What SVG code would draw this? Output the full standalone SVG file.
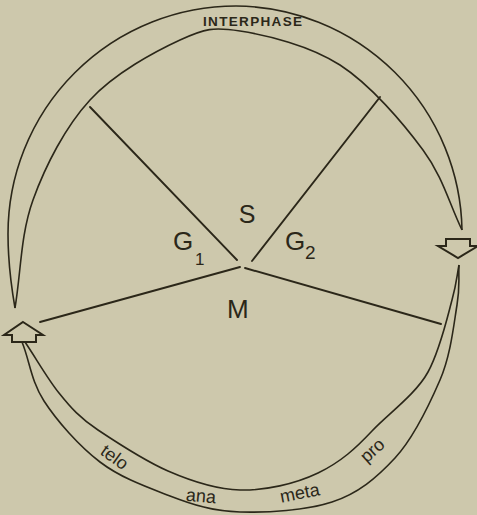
<svg xmlns="http://www.w3.org/2000/svg" width="477" height="515" viewBox="0 0 477 515">
<style>
.band{fill:none;stroke:#2b2719;stroke-width:1.6;stroke-linejoin:round}
.ln{fill:none;stroke:#2b2719;stroke-width:1.9;stroke-linecap:round}
.arr{fill:#cdc8ac;stroke:#2b2719;stroke-width:2;stroke-linejoin:miter}
.lbl{font-family:"Liberation Sans",Arial,sans-serif;fill:#2b2719}
</style>
<rect width="477" height="515" fill="#cdc8ac"/>
<g id="interphase">
<path class="band" d="M15,308 C11,285 8,260 8,234 A228 228 0 0 1 236,6 A228 228 0 0 1 462,230"/>
<path class="band" d="M15,308 C21,272 20.5,234.7 33,200 C45.5,165.3 65.5,126.7 90,100 C114.5,73.3 155,51.5 180,40 C205,28.5 213.3,26.8 240,31 C266.7,35.2 309.5,45.2 340,65 C370.5,84.8 402.7,122.5 423,150 C443.3,177.5 449,203.3 462,230"/>
<text class="lbl" x="203" y="26" font-size="13.5" font-weight="bold" textLength="99" lengthAdjust="spacing">INTERPHASE</text>
</g>
<g id="mitosis">
<path class="band" d="M25,342 C36.7,359.3 47,378 59,393 C71,408 80,418 98,430 C116,442 145,461 168,471 C191,481 215,489.3 240,490 C265,490.7 295,484 318,473 C341,462 356,448 372,431 C388,414 416,394 428,372 C440,350 447.2,317.8 452,300 C456.8,282.2 456.7,276.7 459,265"/>
<path class="band" d="M22,342 C29.7,360.7 31,381 44,401 C57,421 79,446 100,462 C121,478 146.7,487 170,496 C193.3,505 213.3,511.2 240,512 C266.7,512.8 306,510.5 332,502 C358,493.5 376.5,478 395,458 C413.5,438 429.2,405 440,380 C450.8,355 453.8,324.2 457,305 C460.2,285.8 458.3,278.3 459,265"/>
<text class="lbl" font-size="18" text-anchor="middle" transform="translate(114,458) rotate(36)" y="5">telo</text>
<text class="lbl" font-size="18" text-anchor="middle" transform="translate(201,497) rotate(5)" y="5">ana</text>
<text class="lbl" font-size="18" text-anchor="middle" transform="translate(300,494) rotate(-11)" y="5">meta</text>
<text class="lbl" font-size="18" text-anchor="middle" transform="translate(373,451) rotate(-42)" y="5">pro</text>
</g>
<g id="arrow-left">
<polygon class="arr" points="23,322 43,335 36,335 36,342 12,342 12,335 4,335"/>
</g>
<g id="arrow-right">
<polygon class="arr" points="446,239 470,239 470,246 478,246 458,258 438,246 446,246"/>
</g>
<g id="connectors">
<line class="ln" x1="90" y1="107" x2="237" y2="260"/>
<line class="ln" x1="380" y1="97" x2="252" y2="261"/>
<line class="ln" x1="40" y1="322" x2="240" y2="267"/>
<line class="ln" x1="245" y1="268" x2="441" y2="324"/>
</g>
<g id="phase-S"><text class="lbl" x="247" y="223" font-size="25" text-anchor="middle">S</text></g>
<g id="phase-G1"><text class="lbl" x="173" y="250" font-size="26">G</text><text class="lbl" x="195" y="265" font-size="17">1</text></g>
<g id="phase-G2"><text class="lbl" x="285" y="250" font-size="26">G</text><text class="lbl" x="305" y="259" font-size="19">2</text></g>
<g id="phase-M"><text class="lbl" x="227" y="318" font-size="26">M</text></g>
</svg>
